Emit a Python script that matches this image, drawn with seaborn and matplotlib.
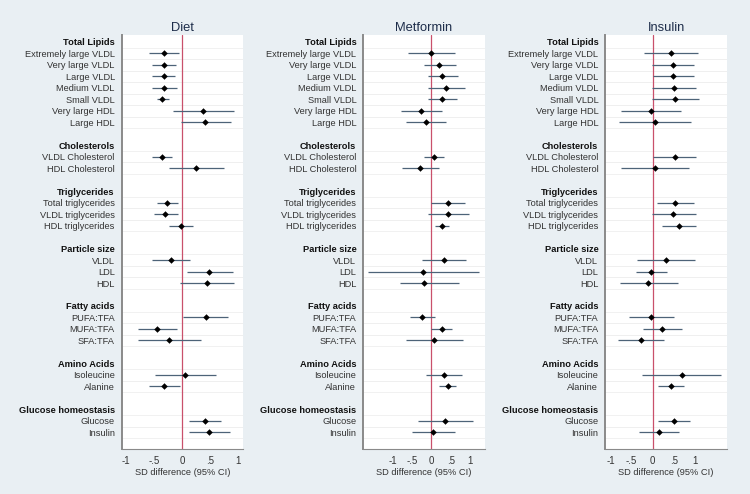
import matplotlib
matplotlib.use("Agg")
import matplotlib.pyplot as plt
import seaborn as sns
import pandas as pd

groups = ["Total Lipids", "Cholesterols", "Triglycerides", "Particle size",
          "Fatty acids", "Amino Acids", "Glucose homeostasis"]
items = [
    ["Extremely large VLDL", "Very large VLDL", "Large VLDL", "Medium VLDL",
     "Small VLDL", "Very large HDL", "Large HDL"],
    ["VLDL Cholesterol", "HDL Cholesterol"],
    ["Total triglycerides", "VLDL triglycerides", "HDL triglycerides"],
    ["VLDL", "LDL", "HDL"],
    ["PUFA:TFA", "MUFA:TFA", "SFA:TFA"],
    ["Isoleucine", "Alanine"],
    ["Glucose", "Insulin"],
]

panels = ["Diet", "Metformin", "Insulin"]

diet_est = [-0.32, -0.32, -0.33, -0.32, -0.36, 0.37, 0.41,
            -0.36, 0.24,
            -0.27, -0.30, -0.02,
            -0.20, 0.48, 0.44,
            0.42, -0.45, -0.23,
            0.05, -0.32,
            0.41, 0.48]
diet_lo = [-0.60, -0.53, -0.53, -0.53, -0.45, -0.17, -0.02,
           -0.53, -0.24,
           -0.45, -0.51, -0.24,
           -0.54, 0.08, -0.04,
           0.01, -0.79, -0.79,
           -0.48, -0.60,
           0.13, 0.13]
diet_hi = [-0.06, -0.11, -0.12, -0.10, -0.24, 0.92, 0.87,
           -0.19, 0.75,
           -0.08, -0.07, 0.20,
           0.14, 0.90, 0.92,
           0.82, -0.10, 0.34,
           0.60, -0.03,
           0.70, 0.85]

metformin_est = [0.00, 0.20, 0.28, 0.37, 0.26, -0.27, -0.14,
                 0.07, -0.29,
                 0.43, 0.43, 0.26,
                 0.31, -0.22, -0.20,
                 -0.24, 0.26, 0.07,
                 0.31, 0.43,
                 0.36, 0.04]
metformin_lo = [-0.59, -0.19, -0.09, -0.10, -0.09, -0.78, -0.65,
                -0.19, -0.75,
                0.00, -0.09, 0.09,
                -0.24, -1.63, -0.82,
                -0.56, 0.00, -0.66,
                -0.13, 0.20,
                -0.35, -0.51]
metformin_hi = [0.60, 0.62, 0.68, 0.86, 0.65, 0.26, 0.37,
                0.31, 0.20,
                0.86, 0.96, 0.44,
                0.88, 1.21, 0.70,
                0.09, 0.54, 0.80,
                0.78, 0.63,
                1.06, 0.60]

insulin_est = [0.43, 0.47, 0.49, 0.50, 0.52, -0.05, 0.05,
               0.52, 0.05,
               0.53, 0.49, 0.61,
               0.31, -0.04, -0.10,
               -0.04, 0.23, -0.28,
               0.69, 0.44,
               0.50, 0.14]
insulin_lo = [-0.20, -0.02, 0.01, -0.02, -0.02, -0.76, -0.80,
              0.01, -0.76,
              0.09, -0.02, 0.22,
              -0.36, -0.40, -0.78,
              -0.55, -0.22, -0.83,
              -0.26, 0.13,
              0.12, -0.32]
insulin_hi = [1.06, 0.97, 0.97, 1.03, 1.09, 0.67, 0.91,
              1.03, 0.86,
              0.97, 1.02, 1.03,
              1.00, 0.34, 0.59,
              0.50, 0.69, 0.27,
              1.62, 0.74,
              0.89, 0.62]

estimates = [diet_est, metformin_est, insulin_est]
lowers = [diet_lo, metformin_lo, insulin_lo]
uppers = [diet_hi, metformin_hi, insulin_hi]
xlims = [(-1.08, 1.09), (-1.75, 1.37), (-1.12, 1.75)]

# row layout: header, items, blank spacer between groups
labels, ypos, header_pos, item_pos = [], [], [], []
row = 0
for g, its in zip(groups, items):
    labels.append(g)
    ypos.append(row)
    header_pos.append(row)
    row += 1
    for it in its:
        labels.append(it)
        ypos.append(row)
        item_pos.append(row)
        row += 1
    row += 1
n_rows = row - 1

bg = "#e9eff3"
line_col = "#4d6378"
sns.set_theme(style="white")
plt.rcParams["font.family"] = ["Liberation Sans", "DejaVu Sans"]

fig = plt.figure(figsize=(7.5, 4.94), dpi=100, facecolor=bg)
W, H = 750, 494
lefts = [121.7, 363.3, 605.3]
width = 121.5
top, bottom = 35, 449.3
fs = 6.7

for k, name in enumerate(panels):
    ax = fig.add_axes([lefts[k] / W, 1 - bottom / H, width / W, (bottom - top) / H])
    ax.set_facecolor("white")
    df = pd.DataFrame({"y": item_pos, "est": estimates[k],
                       "lo": lowers[k], "hi": uppers[k]})
    for y in item_pos:
        ax.axhline(y - 0.5, color="#efefef", lw=0.6, zorder=0)
        ax.axhline(y + 0.5, color="#efefef", lw=0.6, zorder=0)
    ax.axvline(0, color="#c9506b", lw=0.9, zorder=1)
    ax.hlines(df["y"], df["lo"], df["hi"], color=line_col, lw=0.9, zorder=2)
    sns.scatterplot(data=df, x="est", y="y", ax=ax, color="black", marker="D",
                    s=11, linewidth=0, zorder=3)
    ax.set_xlim(*xlims[k])
    ax.set_ylim(n_rows + 0.48, -0.6)
    ax.set_xticks([-1, -0.5, 0, 0.5, 1])
    ax.set_xticklabels(["-1", "-.5", "0", ".5", "1"])
    ax.set_yticks(ypos)
    ax.set_yticklabels(labels)
    ax.tick_params(axis="both", direction="out", length=3.5, width=0.7,
                   color="#444444", labelsize=fs + 0.3, labelcolor="#333333", pad=1.5)
    ax.tick_params(axis="y", labelsize=fs)
    for t, lab in zip(ax.yaxis.get_major_ticks(), labels):
        if lab in groups:
            t.tick1line.set_visible(False)
            t.label1.set_fontweight("bold")
            t.label1.set_color("#111111")
    ax.set_xlabel("SD difference (95% CI)", fontsize=fs, color="#333333", labelpad=1.5)
    ax.set_ylabel("")
    ax.set_title(name, fontsize=9.3, color="#1e2d4a", pad=3)
    sns.despine(ax=ax, top=True, right=True)
    ax.spines["left"].set_color("#8a8a8a")
    ax.spines["left"].set_linewidth(1.4)
    ax.spines["bottom"].set_color("#8a8a8a")
    ax.spines["bottom"].set_linewidth(0.8)

fig.savefig("out.png", dpi=100, facecolor=bg)
